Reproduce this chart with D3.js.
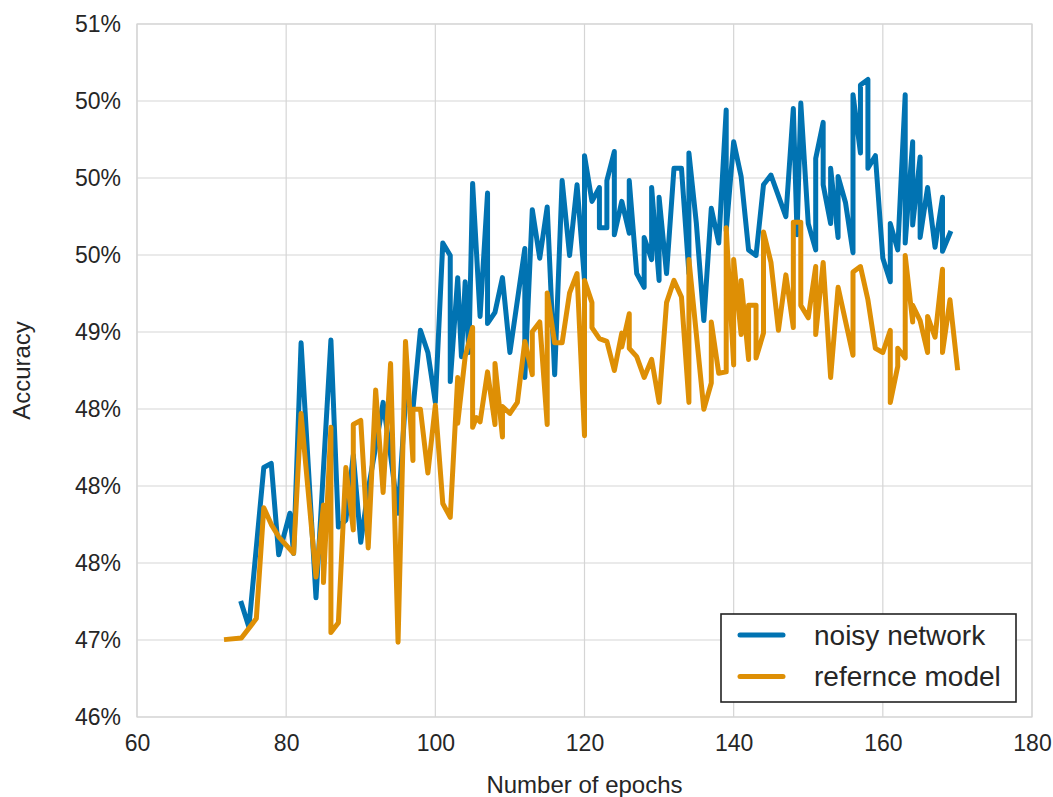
<!DOCTYPE html>
<html>
<head>
<meta charset="utf-8">
<script src="https://cdn.jsdelivr.net/npm/d3@7"></script>
<style>
  html, body { margin: 0; padding: 0; background: #ffffff; }
  svg { display: block; }
  text { font-family: "Liberation Sans", Arial, Helvetica, sans-serif; fill: #262626; }
</style>
</head>
<body>
<script>
// Accuracy (percent) per training epoch for the two runs
const noisyEpochs = [74, 75, 77, 78, 79, 80.5, 81, 82, 84, 86, 87, 88, 89, 90, 91, 92, 93, 94, 95, 96,
  97, 98, 99, 100, 101, 102, 102, 103, 103.5, 104, 104.5, 105, 106, 107, 107, 108, 109, 110, 112, 112,
  113, 114, 115, 116, 117, 118, 119, 120, 120, 121, 122, 122, 123, 123, 124, 124, 125, 126, 126, 127,
  128, 128, 129, 129, 130, 130, 131, 132, 133, 134, 134, 135, 136, 137, 138, 139, 139, 140, 141, 142,
  143, 144, 145, 147, 148, 148.5, 149, 150, 151, 151, 152, 152, 153, 153, 154, 154, 155, 156, 156, 157,
  157, 158, 158, 159, 160, 161, 161, 162, 163, 163, 164, 164, 165, 165, 166, 167, 168, 168, 169];
const noisyAcc = [46.82, 46.65, 47.80, 47.83, 47.17, 47.47, 47.18, 48.70, 46.86, 48.72, 47.37, 47.42, 47.89, 47.26, 47.64, 47.95, 48.27, 47.89, 47.47, 48.29,
  48.22, 48.79, 48.63, 48.27, 49.42, 49.33, 48.42, 49.17, 48.60, 49.14, 48.63, 49.85, 48.89, 49.78, 48.84, 48.92, 49.17, 48.63, 49.38, 48.45,
  49.66, 49.31, 49.68, 48.47, 49.87, 49.33, 49.84, 49.15, 50.05, 49.72, 49.82, 49.53, 49.53, 49.87, 50.08, 49.48, 49.72, 49.49, 49.87, 49.20,
  49.10, 49.46, 49.30, 49.82, 49.15, 49.75, 49.20, 49.96, 49.96, 49.20, 50.07, 49.56, 48.86, 49.67, 49.42, 50.38, 49.51, 50.15, 49.90, 49.37,
  49.33, 49.84, 49.91, 49.61, 50.39, 49.48, 50.43, 49.56, 49.37, 50.03, 50.29, 49.84, 49.56, 49.96, 49.46, 49.90, 49.71, 49.35, 50.49, 50.07,
  50.56, 50.60, 49.96, 50.05, 49.31, 49.14, 49.56, 49.37, 50.49, 49.42, 50.15, 49.55, 50.04, 49.46, 49.82, 49.39, 49.75, 49.36, 49.49];

const refEpochs = [72, 74, 76, 77, 78, 79, 81, 82, 84, 85, 85, 86, 86, 87, 88, 89, 89, 90, 91, 92,
  93, 94, 95, 96, 97, 97, 98, 99, 100, 101, 102, 103, 103, 104, 105, 105, 105.5, 106, 107, 108,
  108, 109, 109, 110, 111, 112, 113, 113, 114, 115, 115, 116, 117, 118, 119, 120, 120, 121, 121, 122,
  123, 124, 125, 125, 126, 126, 127, 128, 129, 130, 131, 132, 133, 134, 134, 136, 137, 137, 138, 139,
  139, 140, 140, 141, 141, 142, 142, 143, 143, 144, 144, 145, 146, 147, 148, 148, 149, 149, 150, 151,
  151, 152, 153, 154, 156, 156, 157, 158, 159, 160, 161, 161, 162, 162, 163, 163, 164, 164, 165, 166,
  166, 167, 168, 168, 169, 170];
const refAcc = [46.56, 46.57, 46.71, 47.51, 47.39, 47.30, 47.18, 48.19, 47.01, 47.53, 46.97, 48.09, 46.61, 46.68, 47.80, 47.35, 48.11, 48.14, 47.22, 48.36,
  47.62, 48.55, 46.54, 48.71, 47.85, 48.22, 48.22, 47.76, 48.25, 47.54, 47.44, 48.45, 48.12, 48.60, 48.81, 48.09, 48.16, 48.13, 48.49, 48.11,
  48.55, 48.02, 48.24, 48.19, 48.27, 48.71, 48.47, 48.78, 48.85, 48.11, 49.06, 48.70, 48.70, 49.06, 49.20, 48.03, 49.15, 48.99, 48.81, 48.73,
  48.71, 48.50, 48.77, 48.67, 48.91, 48.66, 48.60, 48.45, 48.58, 48.27, 48.99, 49.15, 49.03, 48.27, 49.30, 48.22, 48.41, 48.85, 48.48, 48.49,
  49.53, 48.54, 49.30, 48.76, 49.15, 48.58, 48.97, 48.97, 48.59, 48.77, 49.50, 49.28, 48.79, 49.19, 48.81, 49.57, 49.57, 48.97, 48.88, 49.25,
  48.76, 49.28, 48.45, 49.10, 48.61, 49.21, 49.25, 49.01, 48.66, 48.63, 48.79, 48.27, 48.53, 48.66, 48.59, 49.33, 48.85, 48.97, 48.86, 48.63,
  48.89, 48.74, 49.23, 48.63, 49.01, 48.52];

// Axis ticks
const xTicks = [60, 80, 100, 120, 140, 160, 180];
const yTickValues = [46, 46.5556, 47.1111, 47.6667, 48.2222, 48.7778, 49.3333, 49.8889, 50.4444, 51];
const yTickLabels = ["46%", "47%", "48%", "48%", "48%", "49%", "50%", "50%", "50%", "51%"];

const seriesNames = ["noisy network", "refernce model"];
const seriesColors = ["#0173B2", "#DE8F05"];

const W = 1053, H = 797;
const margin = { top: 24, right: 21, bottom: 80, left: 137 };
const iw = W - margin.left - margin.right;
const ih = H - margin.top - margin.bottom;

const svg = d3.select("body").append("svg").attr("width", W).attr("height", H);
const g = svg.append("g").attr("transform", `translate(${margin.left},${margin.top})`);

const x = d3.scaleLinear().domain([60, 180]).range([0, iw]);
const y = d3.scaleLinear().domain([46, 51]).range([ih, 0]);

// grid
g.append("g").selectAll("line.vg").data(xTicks).join("line")
  .attr("x1", d => x(d)).attr("x2", d => x(d)).attr("y1", 0).attr("y2", ih)
  .attr("stroke", "#d5d5d5").attr("stroke-width", 1.2);
g.append("g").selectAll("line.hg").data(yTickValues).join("line")
  .attr("x1", 0).attr("x2", iw).attr("y1", d => y(d)).attr("y2", d => y(d))
  .attr("stroke", "#d5d5d5").attr("stroke-width", 1.2);

// frame
g.append("rect").attr("x", 0).attr("y", 0).attr("width", iw).attr("height", ih)
  .attr("fill", "none").attr("stroke", "#d5d5d5").attr("stroke-width", 1.2);

// axes (labels only, no tick marks)
const xAxis = d3.axisBottom(x).tickValues(xTicks).tickSize(0).tickPadding(18).tickFormat(d3.format("d"));
const gx = g.append("g").attr("transform", `translate(0,${ih})`).call(xAxis);
gx.select(".domain").remove();
gx.selectAll("text").attr("font-size", 23).style("font-family", "'Liberation Sans', Arial, sans-serif").attr("fill", "#262626");

const yAxis = d3.axisLeft(y).tickValues(yTickValues).tickSize(0).tickPadding(16)
  .tickFormat((d, i) => yTickLabels[i]);
const gy = g.append("g").call(yAxis);
gy.select(".domain").remove();
gy.selectAll("text").attr("font-size", 23).style("font-family", "'Liberation Sans', Arial, sans-serif").attr("fill", "#262626");

// axis titles
svg.append("text").attr("x", margin.left + iw / 2).attr("y", 793)
  .attr("text-anchor", "middle").attr("font-size", 24).text("Number of epochs");
svg.append("text").attr("transform", `translate(30,${margin.top + ih / 2}) rotate(-90)`)
  .attr("text-anchor", "middle").attr("font-size", 24).text("Accuracy");

// lines
const series = [
  noisyEpochs.map((e, i) => [e, noisyAcc[i]]),
  refEpochs.map((e, i) => [e, refAcc[i]])
];
const line = d3.line().x(d => x(d[0])).y(d => y(d[1]));
series.forEach((s, i) => {
  g.append("path").datum(s).attr("d", line)
    .attr("fill", "none").attr("stroke", seriesColors[i]).attr("stroke-width", 5)
    .attr("stroke-linejoin", "round").attr("stroke-linecap", "square");
});

// legend
const lg = svg.append("g").attr("transform", "translate(721,614)");
lg.append("rect").attr("x", 0).attr("y", 0).attr("width", 295).attr("height", 88)
  .attr("fill", "#ffffff").attr("stroke", "#222222").attr("stroke-width", 1.6);
seriesNames.forEach((name, i) => {
  const cy = 21 + i * 41.5;
  lg.append("line").attr("x1", 19).attr("x2", 62).attr("y1", cy).attr("y2", cy)
    .attr("stroke", seriesColors[i]).attr("stroke-width", 5).attr("stroke-linecap", "round");
  lg.append("text").attr("x", 93).attr("y", cy).attr("dy", "0.35em")
    .attr("font-size", 28).text(name);
});
</script>
</body>
</html>
